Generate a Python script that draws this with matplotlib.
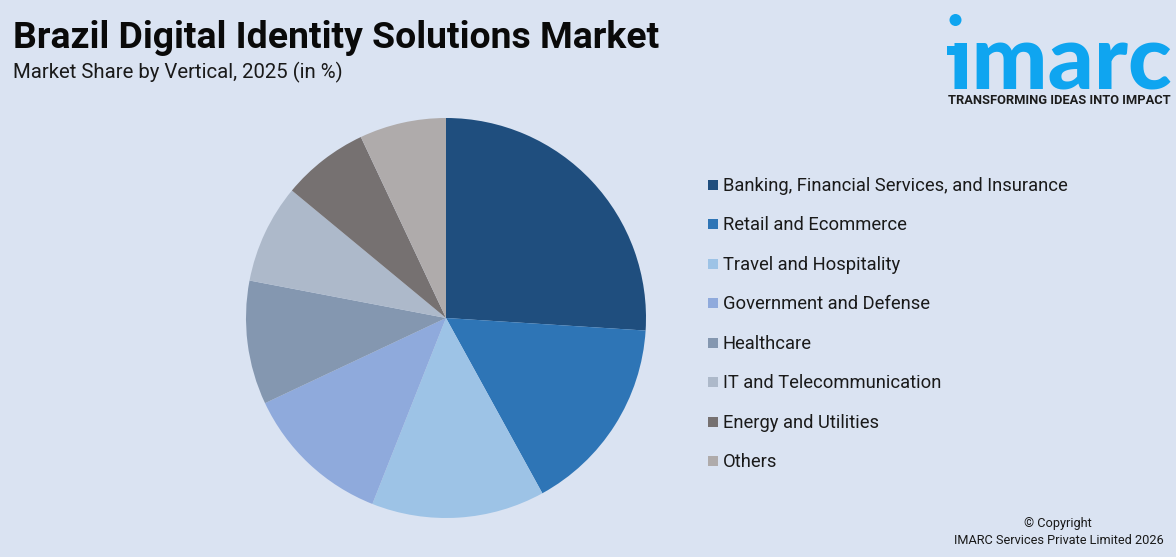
import matplotlib
matplotlib.use("Agg")
import matplotlib.pyplot as plt
from matplotlib.patches import Circle, Rectangle

categories = ["Banking, Financial Services, and Insurance", "Retail and Ecommerce",
              "Travel and Hospitality", "Government and Defense", "Healthcare",
              "IT and Telecommunication", "Energy and Utilities", "Others"]
shares = [26, 16, 14, 12, 10, 8, 7, 7]
colors = ["#1F4E7E", "#2E75B6", "#9DC3E6", "#8FAADC", "#8497B0", "#ADB9CA", "#767171", "#AFABAB"]
legend_y = [185, 224, 264, 303, 343, 382, 422, 461]

BG = "#DAE3F2"
W, H = 1176, 557

plt.rcParams["font.family"] = ["Roboto", "DejaVu Sans"]
fig = plt.figure(figsize=(W / 100, H / 100), dpi=100, facecolor=BG)

# full-figure overlay in pixel coords, y going down like the picture
bg = fig.add_axes([0, 0, 1, 1])
bg.set_xlim(0, W)
bg.set_ylim(H, 0)
bg.axis("off")

# pie: centre (446, 318), radius 200
ax = fig.add_axes([246 / W, 1 - 518 / H, 400 / W, 400 / H])
ax.pie(shares, colors=colors, startangle=90, counterclock=False, radius=1.0)
ax.set_xlim(-1, 1)
ax.set_ylim(-1, 1)

bg.text(13, 38, "Brazil Digital Identity Solutions Market", fontsize=26.9, fontweight="bold",
        color="#0A0A0A", va="center", ha="left")
bg.text(13, 72, "Market Share by Vertical, 2025 (in %)", fontsize=14.7, color="#1A1A1A",
        va="center", ha="left")

for name, col, y in zip(categories, colors, legend_y):
    bg.add_patch(Rectangle((708, y - 5), 10, 10, color=col, lw=0))
    bg.text(723, y + 1, name, fontsize=13.2, color="#1A1A1A", va="center", ha="left")

# logo
LOGO = "#0FA5F0"
bg.add_patch(Circle((955.5, 20), 6, color=LOGO, lw=0))
bg.add_patch(Rectangle((947, 46), 14, 9, color=LOGO, lw=0))
bg.text(948, 90, "\u0131marc", fontsize=65, fontweight="black", color=LOGO, family="Lato",
        va="baseline", ha="left")
bg.text(948, 100, "TRANSFORMING IDEAS INTO IMPACT", fontsize=9.25, fontweight="bold",
        color="#1C1C1C", family="Roboto", va="center", ha="left")

bg.text(1058, 524, "\u00a9 Copyright", fontsize=9.2, color="#1A1A1A", va="center", ha="center")
bg.text(1058.5, 540, "IMARC Services Private Limited 2026", fontsize=9.2, color="#1A1A1A",
        va="center", ha="center")

fig.savefig("out.png", dpi=100, facecolor=BG)
